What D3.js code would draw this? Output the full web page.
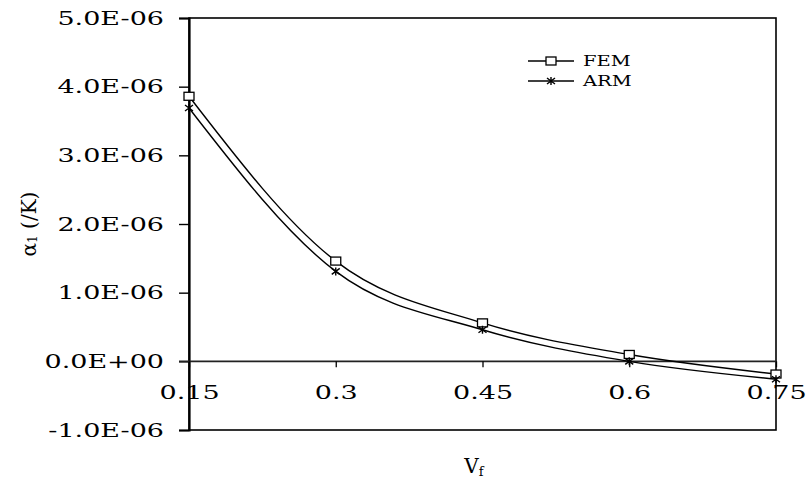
<!DOCTYPE html>
<html>
<head>
<meta charset="utf-8">
<script src="https://cdn.jsdelivr.net/npm/d3@7/dist/d3.min.js"></script>
<style>
  html, body { margin: 0; padding: 0; background: #fff; }
  svg { display: block; }
  text { font-family: "DejaVu Serif", "Liberation Serif", serif; fill: #000; }
</style>
</head>
<body>
<svg id="chart" width="807" height="482"></svg>
<script>
// ---- data ----
const vf = [0.15, 0.3, 0.45, 0.6, 0.75];
const fem = [3.86e-6, 1.46e-6, 0.56e-6, 0.10e-6, -0.185e-6];
const arm = [3.69e-6, 1.31e-6, 0.46e-6, 0.00e-6, -0.26e-6];
const yTicks = [-1e-6, 0, 1e-6, 2e-6, 3e-6, 4e-6, 5e-6];
const xTickLabels = ["0.15", "0.3", "0.45", "0.6", "0.75"];
const seriesNames = ["FEM", "ARM"];

// ---- layout ----
const L = 189, R = 776, T = 18, B = 430;
const svg = d3.select("#chart");
const x = d3.scaleLinear().domain([0.15, 0.75]).range([L, R]);
const y = d3.scaleLinear().domain([-1e-6, 5e-6]).range([B, T]);

function fmtE(v) {
  const s = d3.format(".1e")(v).replace("\u2212", "-");
  const [m, e] = s.split("e");
  const sign = e[0] === "-" || e[0] === "\u2212" ? "-" : "+";
  const ex = e.replace(/[+\-\u2212]/, "").padStart(2, "0");
  return m + "E" + sign + ex;
}
function stretch(sel, f) {
  sel.each(function () {
    const w = this.getComputedTextLength();
    d3.select(this).attr("textLength", w * f).attr("lengthAdjust", "spacingAndGlyphs");
  });
}

// frame
svg.append("rect").attr("x", L).attr("y", T).attr("width", R - L).attr("height", B - T)
  .attr("fill", "none").attr("stroke", "#000").attr("stroke-width", 1.6);

// y axis
const yAxis = d3.axisLeft(y).tickValues(yTicks).tickSize(10).tickFormat(fmtE).tickPadding(15);
const gy = svg.append("g").attr("transform", `translate(${L},0)`).call(yAxis);
gy.select(".domain").attr("stroke-width", 2.2);
gy.selectAll(".tick line").attr("stroke-width", 1.4);
gy.selectAll("text").style("font-family", '"DejaVu Serif", serif').style("font-size", "19px").attr("fill", "#000");
stretch(gy.selectAll("text"), 1.42);

// zero line
svg.append("line").attr("x1", L - 10).attr("x2", R).attr("y1", y(0)).attr("y2", y(0))
  .attr("stroke", "#222").attr("stroke-width", 1.6);

// x axis on zero line
const xAxis = d3.axisBottom(x).tickValues(vf).tickSize(6).tickFormat((d, i) => xTickLabels[i]).tickPadding(18);
const gx = svg.append("g").attr("transform", `translate(0,${y(0)})`).call(xAxis);
gx.select(".domain").remove();
gx.selectAll(".tick line").attr("stroke-width", 1.3);
gx.selectAll("text").style("font-family", '"DejaVu Serif", serif').style("font-size", "19px").attr("fill", "#000");
stretch(gx.selectAll("text"), 1.42);

// curves
const line = d3.line().x((d, i) => x(vf[i])).y(d => y(d)).curve(d3.curveMonotoneX);
[fem, arm].forEach(s => {
  svg.append("path").attr("d", line(s)).attr("fill", "none").attr("stroke", "#000").attr("stroke-width", 1.4);
});

// markers
function square(g, cx, cy) {
  g.append("rect").attr("x", cx - 5).attr("y", cy - 4).attr("width", 10).attr("height", 8)
    .attr("fill", "#fff").attr("stroke", "#000").attr("stroke-width", 1.3);
}
function star(g, cx, cy) {
  const s = 4;
  g.append("path").attr("d", `M${cx - s},${cy - s + 1}L${cx + s},${cy + s - 1}M${cx - s},${cy + s - 1}L${cx + s},${cy - s + 1}M${cx},${cy - s}L${cx},${cy + s}`)
    .attr("stroke", "#000").attr("stroke-width", 1.4).attr("fill", "none");
}
const mk = svg.append("g");
fem.forEach((v, i) => square(mk, x(vf[i]), y(v)));
arm.forEach((v, i) => star(mk, x(vf[i]), y(v)));

// legend
const leg = svg.append("g");
[61, 81].forEach((ly, i) => {
  leg.append("line").attr("x1", 528).attr("x2", 574).attr("y1", ly).attr("y2", ly)
    .attr("stroke", "#000").attr("stroke-width", 1.4);
  if (i === 0) square(leg, 551, ly); else star(leg, 551, ly);
  leg.append("text").attr("x", 583).attr("y", ly).attr("dy", "0.36em")
    .style("font-size", "15px").text(seriesNames[i]);
});
stretch(leg.selectAll("text"), 1.3);

// axis titles
const yt = svg.append("text").attr("transform", "translate(36,224) rotate(-90)")
  .attr("text-anchor", "middle").style("font-size", "20px");
yt.append("tspan").text("α");
yt.append("tspan").style("font-size", "12px").attr("dy", "1").text("1");
yt.append("tspan").attr("dy", "-1").text(" (/K)");

const xt = svg.append("text").attr("x", 474).attr("y", 473).attr("text-anchor", "middle").style("font-size", "20px");
xt.append("tspan").text("V");
xt.append("tspan").style("font-size", "13px").attr("dy", "3").text("f");
</script>
</body>
</html>
